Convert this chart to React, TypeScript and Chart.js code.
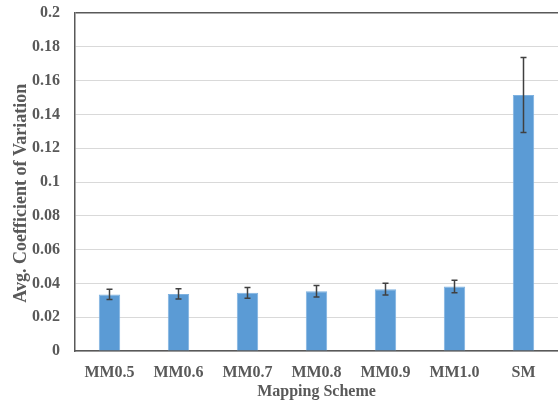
import React, { useEffect, useRef } from "react";
import { Chart, registerables } from "chart.js";

Chart.register(...registerables);

const categories = ["MM0.5", "MM0.6", "MM0.7", "MM0.8", "MM0.9", "MM1.0", "SM"];
const values = [0.0335, 0.0338, 0.0344, 0.0354, 0.0366, 0.0381, 0.1515];
const errors = [0.003, 0.003, 0.0032, 0.0034, 0.0035, 0.0037, 0.0222];
const yTicks = [0, 0.02, 0.04, 0.06, 0.08, 0.1, 0.12, 0.14, 0.16, 0.18, 0.2];

const TEXT = "#595959";
const FONT = "'Liberation Serif', 'Times New Roman', serif";

const errorBarPlugin = {
  id: "errorBars",
  afterDatasetsDraw(chart: any) {
    const meta = chart.getDatasetMeta(0);
    const yScale = chart.scales.y;
    const ctx = chart.ctx;
    ctx.save();
    ctx.strokeStyle = "#404040";
    ctx.lineWidth = 1.5;
    meta.data.forEach((bar: any, i: number) => {
      const x = bar.x;
      const yTop = yScale.getPixelForValue(values[i] + errors[i]);
      const yBot = yScale.getPixelForValue(values[i] - errors[i]);
      const cap = 3;
      ctx.beginPath();
      ctx.moveTo(x, yTop);
      ctx.lineTo(x, yBot);
      ctx.moveTo(x - cap, yTop);
      ctx.lineTo(x + cap, yTop);
      ctx.moveTo(x - cap, yBot);
      ctx.lineTo(x + cap, yBot);
      ctx.stroke();
    });
    ctx.restore();
  },
};

export default function App() {
  const ref = useRef<HTMLCanvasElement | null>(null);
  useEffect(() => {
    document.body.style.margin = "0";
    const chart = new Chart(ref.current as HTMLCanvasElement, {
      type: "bar",
      data: {
        labels: categories,
        datasets: [
          {
            data: values,
            backgroundColor: "#5B9BD5",
            borderColor: "#7FB2E0",
            borderWidth: { top: 1, left: 1, right: 1, bottom: 0 },
            barPercentage: 0.31,
            categoryPercentage: 1,
          },
        ],
      },
      options: {
        responsive: false,
        animation: false,
        layout: { padding: { top: 13, right: 0, bottom: 0, left: 0 } },
        plugins: { legend: { display: false }, tooltip: { enabled: false } },
        scales: {
          x: {
            afterFit: (s: any) => {
              s.height = 51;
              s.paddingLeft = 0;
              s.paddingRight = 0;
            },
            grid: { display: false, drawTicks: false },
            border: { display: true, color: TEXT, width: 1.5 },
            ticks: {
              color: TEXT,
              padding: 12,
              font: { family: FONT, size: 16, weight: "bold" },
            },
            title: {
              display: true,
              text: "Mapping Scheme",
              color: TEXT,
              padding: { top: 0, bottom: 1 },
              font: { family: FONT, size: 16, weight: "bold" },
            },
          },
          y: {
            min: 0,
            max: 0.2,
            afterFit: (s: any) => {
              s.width = 75;
              s.paddingTop = 0;
              s.paddingBottom = 0;
            },
            afterBuildTicks: (s: any) => {
              s.ticks = yTicks.map((v) => ({ value: v }));
            },
            grid: {
              drawTicks: false,
              color: (c: any) => (c.tick && c.tick.value === 0.2 ? TEXT : "#D9D9D9"),
              lineWidth: (c: any) => (c.tick && c.tick.value === 0.2 ? 1.5 : 1),
            },
            border: { display: true, color: TEXT, width: 1.5 },
            ticks: {
              color: TEXT,
              padding: 15,
              font: { family: FONT, size: 16, weight: "bold" },
              callback: (v: any) => String(Math.round(Number(v) * 100) / 100),
            },
            title: {
              display: true,
              text: "Avg. Coefficient of Variation     ",
              color: TEXT,
              padding: { top: 11, bottom: 0 },
              font: { family: FONT, size: 18, weight: "bold" },
            },
          },
        },
      },
      plugins: [errorBarPlugin],
    });
    return () => chart.destroy();
  }, []);
  return (
    <div style={{ width: 558, height: 402 }}>
      <canvas ref={ref} width={558} height={402} style={{ display: "block" }} />
    </div>
  );
}
